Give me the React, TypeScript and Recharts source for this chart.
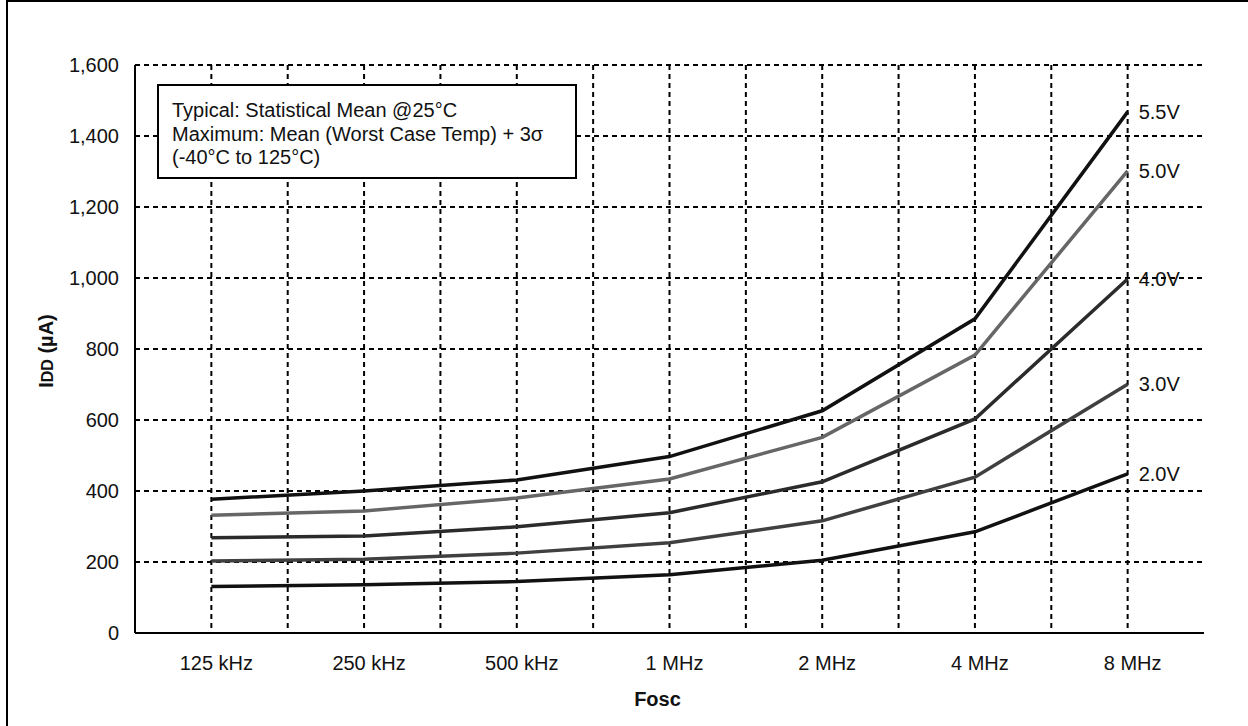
import React from 'react';
import { LineChart, Line, XAxis, YAxis, CartesianGrid } from 'recharts';

// oscillator frequency categories
const freqs = ['125 kHz', '250 kHz', '500 kHz', '1 MHz', '2 MHz', '4 MHz', '8 MHz'];

// IDD (uA) per supply voltage
const v55 = [377, 400, 431, 497, 626, 885, 1468];
const v50 = [332, 344, 380, 434, 551, 783, 1302];
const v40 = [268, 273, 299, 339, 426, 603, 997];
const v30 = [203, 208, 225, 254, 316, 439, 701];
const v20 = [131, 136, 145, 164, 205, 285, 448];

const yTicks = [0, 200, 400, 600, 800, 1000, 1200, 1400, 1600];

const noteLines = [
  'Typical: Statistical Mean @25°C',
  'Maximum: Mean (Worst Case Temp) + 3σ',
  '(-40°C to 125°C)',
];

const series = [
  { key: 'v55', name: '5.5V', values: v55, color: '#111111' },
  { key: 'v50', name: '5.0V', values: v50, color: '#666666' },
  { key: 'v40', name: '4.0V', values: v40, color: '#2b2b2b' },
  { key: 'v30', name: '3.0V', values: v30, color: '#404040' },
  { key: 'v20', name: '2.0V', values: v20, color: '#111111' },
];

const data = freqs.map((f, i) => {
  const row: any = { freq: f };
  series.forEach(s => { row[s.key] = s.values[i]; });
  return row;
});

const FONT = 'Arial, "Liberation Sans", sans-serif';

// label only on the last point of each line
const endLabel = (name: string) => (props: any) => {
  const { x, y, index } = props;
  if (index !== freqs.length - 1) return null;
  return (
    <text key={name} x={x + 11} y={y} dy="0.35em" fontSize={20} fontFamily={FONT} fill="#111">
      {name}
    </text>
  );
};

// grid lines on category centres and category boundaries
const verticalGen = ({ offset }: any) => {
  const step = offset.width / freqs.length;
  const pts: number[] = [];
  for (let i = 0; i < freqs.length; i++) {
    pts.push(offset.left + (i + 0.5) * step);
    if (i > 0) pts.push(offset.left + i * step);
  }
  return pts;
};

const YLabel = (props: any) => {
  const { viewBox } = props;
  const cy = viewBox.y + viewBox.height / 2 + 2;
  const cx = 53;
  return (
    <text x={cx} y={cy} textAnchor="middle" transform={`rotate(-90, ${cx}, ${cy})`}
      fontSize={20} fontWeight="bold" fontFamily={FONT} fill="#111">
      I<tspan fontSize={16}>DD</tspan> (µA)
    </text>
  );
};

const XLabel = (props: any) => {
  const { viewBox } = props;
  const cx = viewBox.x + viewBox.width / 2 - 12;
  return (
    <text x={cx} y={706} textAnchor="middle" fontSize={20} fontWeight="bold" fontFamily={FONT} fill="#111">
      Fosc
    </text>
  );
};

export default function App() {
  return (
    <div style={{ position: 'absolute', left: 0, top: 0, width: 1248, height: 726, background: '#fff', fontFamily: FONT, overflow: 'hidden' }}>
      <div style={{ position: 'absolute', left: 6, top: 0, width: 1242, height: 726, boxSizing: 'border-box', borderTop: '2px solid #000', borderLeft: '2px solid #000' }} />
      <LineChart width={1248} height={726} data={data} margin={{ top: 65, right: 44, bottom: 0, left: 0 }}>
        <CartesianGrid stroke="#000" strokeWidth={2} strokeDasharray="5 4" verticalCoordinatesGenerator={verticalGen} />
        <XAxis dataKey="freq" scale="band" height={93} tickSize={0} tickMargin={23} axisLine={{ stroke: '#000', strokeWidth: 2 }}
          tick={{ fill: '#111', fontSize: 20, fontFamily: FONT, dx: 5 }} interval={0}
          label={<XLabel />} />
        <XAxis xAxisId="top" orientation="top" dataKey="freq" scale="band" height={0} tick={false} tickLine={false}
          axisLine={{ stroke: '#000', strokeWidth: 2 }} />
        <YAxis domain={[0, 1600]} ticks={yTicks} width={135} tickSize={0} tickMargin={16}
          tickFormatter={(v: number) => v.toLocaleString('en-US')}
          axisLine={{ stroke: '#000', strokeWidth: 2 }}
          tick={{ fill: '#111', fontSize: 20, fontFamily: FONT }}
          label={<YLabel />} />
        <YAxis yAxisId="right" orientation="right" domain={[0, 1600]} width={0} tick={false} tickLine={false}
          axisLine={{ stroke: '#000', strokeWidth: 2 }} />
        {series.map(s => (
          <Line key={s.key} type="linear" dataKey={s.key} name={s.name} stroke={s.color} strokeWidth={3.5}
            dot={false} activeDot={false} isAnimationActive={false} label={endLabel(s.name)} />
        ))}
      </LineChart>
      <div style={{ position: 'absolute', left: 157, top: 84, width: 420, height: 95, boxSizing: 'border-box', border: '2px solid #000', background: '#fff', paddingLeft: 13, paddingTop: 13, fontSize: 20, lineHeight: '23.5px', color: '#111' }}>
        {noteLines.map(l => <div key={l}>{l}</div>)}
      </div>
    </div>
  );
}
